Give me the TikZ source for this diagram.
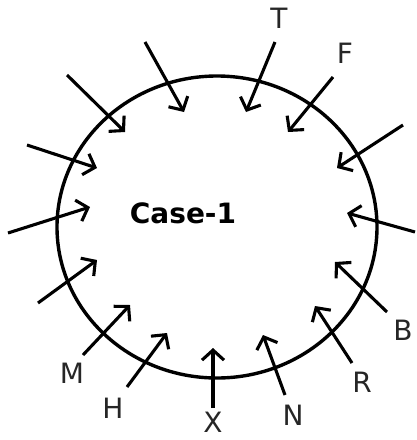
\documentclass[tikz,border=0pt]{standalone}
\usepackage{fontspec}
\setmainfont{DejaVu Sans}
\usetikzlibrary{arrows.meta}
\tikzset{
  inarrow/.style={line width=3.1pt,-{Straight Barb[length=10pt,width=22pt]}},
  lbl/.style={font=\fontsize{28}{30}\selectfont,text=black!85,inner sep=0pt},
}
\begin{document}
\begin{tikzpicture}[x=1pt,y=-1pt]
 \useasboundingbox (0,0) rectangle (416,440);
 % the ring
 \draw[line width=3.4pt] (217,227) ellipse [x radius=160pt,y radius=151pt];
 \node[font=\fontsize{28}{30}\selectfont\bfseries] (case) at (183,213) {Case-1};
 % labels
 \node[lbl] (T) at (279,18) {T};
 \node[lbl] (F) at (345,53) {F};
 \node[lbl] (B) at (403,330) {B};
 \node[lbl] (R) at (362,382) {R};
 \node[lbl] (N) at (293,415) {N};
 \node[lbl] (X) at (213,422) {X};
 \node[lbl] (H) at (113,408) {H};
 \node[lbl] (M) at (72,373) {M};
 % tails and heads
 \coordinate (a1) at (67,75);   \coordinate (a1h) at (125,132);
 \coordinate (a2) at (145,42);  \coordinate (a2h) at (184,112);
 \coordinate (t) at (275,42);   \coordinate (th) at (246,112);
 \coordinate (f) at (333,77);   \coordinate (fh) at (288,132);
 \coordinate (a5) at (403,125); \coordinate (a5h) at (337,168);
 \coordinate (a6) at (27,145);  \coordinate (a6h) at (97,168);
 \coordinate (a7) at (8,233);   \coordinate (a7h) at (90,207);
 \coordinate (a8) at (38,303);  \coordinate (a8h) at (97,260);
 \coordinate (a9) at (415,232); \coordinate (a9h) at (347,213);
 \coordinate (b) at (387,312);  \coordinate (bh) at (335,262);
 \coordinate (r) at (352,363);  \coordinate (rh) at (315,306);
 \coordinate (n) at (285,395);  \coordinate (nh) at (263,335);
 \coordinate (x) at (213,408);  \coordinate (xh) at (213,348);
 \coordinate (h) at (127,387);  \coordinate (hh) at (167,333);
 \coordinate (m) at (83,355);   \coordinate (mh) at (130,305);
 % arrows
 \draw[inarrow] (a1) -- (a1h);
 \draw[inarrow] (a2) -- (a2h);
 \draw[inarrow] (t) -- (th);
 \draw[inarrow] (f) -- (fh);
 \draw[inarrow] (a5) -- (a5h);
 \draw[inarrow] (a6) -- (a6h);
 \draw[inarrow] (a7) -- (a7h);
 \draw[inarrow] (a8) -- (a8h);
 \draw[inarrow] (a9) -- (a9h);
 \draw[inarrow] (b) -- (bh);
 \draw[inarrow] (r) -- (rh);
 \draw[inarrow] (n) -- (nh);
 \draw[inarrow] (x) -- (xh);
 \draw[inarrow] (h) -- (hh);
 \draw[inarrow] (m) -- (mh);
\end{tikzpicture}
\end{document}
